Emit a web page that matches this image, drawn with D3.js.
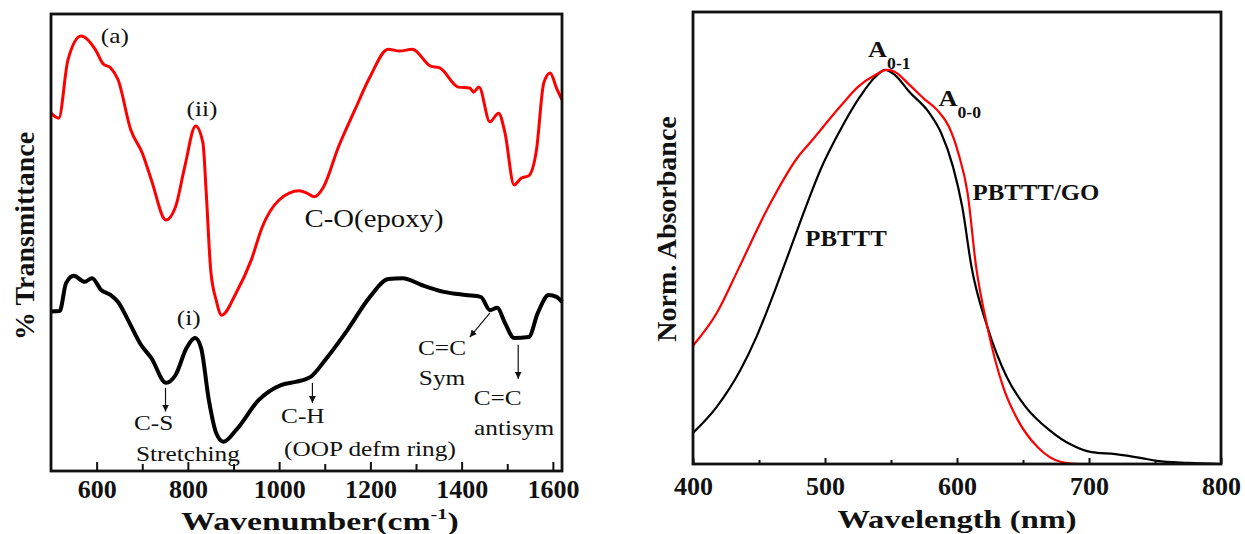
<!DOCTYPE html>
<html><head><meta charset="utf-8">
<script src="https://cdn.jsdelivr.net/npm/d3@7"></script>
<style>
body{margin:0;background:#fff}
svg{display:block}
text{font-family:"Liberation Serif","Times New Roman",serif;fill:#111}
</style>
</head><body>
<svg id="chart" width="1245" height="534"></svg>
<script>
// ---------- Panel (a): FTIR ----------
const irRedWavenumber = [500,517,537,566,598,614,631,647,675,700,720,752,773,793,817,833,840,850,862,874,906,939,963,1000,1044,1061,1077,1097,1130,1166,1199,1239,1264,1292,1332,1352,1393,1418,1426,1438,1462,1481,1495,1515,1531,1547,1564,1580,1594,1608,1620];
const irRedT = [78.3,77.2,89.9,95.2,92.1,89.1,88.2,85.6,74.6,69.6,63.7,54.9,57.8,66.5,75.5,71.8,61.3,44.0,37.4,34.1,39.0,46.2,53.4,59.3,61.3,60.8,60.0,62.1,70.9,79.0,86.2,92.3,91.9,92.3,88.6,88.2,84.0,83.8,82.9,84.0,76.4,78.3,74.0,62.6,64.1,64.6,70.2,84.9,87.1,83.8,81.2];
const irBlackWavenumber = [500,519,533,550,574,590,610,631,647,672,696,720,752,773,797,816,829,846,862,878,906,955,1004,1036,1069,1101,1150,1199,1239,1271,1312,1361,1409,1442,1462,1478,1495,1515,1547,1567,1591,1608,1620];
const irBlackT = [34.9,35.0,41.1,42.7,41.4,42.2,39.6,38.5,37.0,32.4,27.8,24.7,19.3,21.0,26.9,29.1,26.9,15.5,8.3,6.4,9.0,15.5,18.8,19.5,20.6,24.3,30.9,38.1,42.0,42.2,40.7,39.2,38.5,38.1,35.2,35.7,32.4,29.1,29.3,34.6,38.5,38.1,37.0];
const irMajorTicks = [600,800,1000,1200,1400,1600];
const irTickLabels = ["600","800","1000","1200","1400","1600"];
const irMinorTicks = [700,900,1100,1300,1500];

// ---------- Panel (b): UV-vis ----------
const uvRedWavelength = [400,418,434,456,479.5,488.6,512,525,538,547,553,564,576,585,594,601,608,614.5,623,635,646,661,679,693,750,800];
const uvRedAbs = [0.30,0.383,0.492,0.645,0.779,0.815,0.909,0.957,0.987,1.0,0.995,0.962,0.924,0.898,0.855,0.789,0.688,0.50,0.348,0.195,0.112,0.043,0.005,0,0,0];
const uvBlackWavelength = [400,418,436,448,462,472,483,497,512,526.5,538,545.6,553,564,579,588,597,604,611,623,637.7,652,670,687,702,720,740,751.5,775,800];
const uvBlackAbs = [0.079,0.145,0.239,0.322,0.440,0.530,0.630,0.750,0.850,0.932,0.982,1.0,0.987,0.944,0.891,0.840,0.754,0.652,0.50,0.348,0.221,0.145,0.086,0.048,0.030,0.025,0.015,0.008,0.003,0.0];
const uvMajorTicks = [400,500,600,700,800];
const uvTickLabels = ["400","500","600","700","800"];
const uvMinorTicks = [450,550,650,750];

const svg = d3.select("#chart");
svg.append("rect").attr("width",1245).attr("height",534).attr("fill","#fff");

const defs = svg.append("defs");
defs.append("marker").attr("id","arr").attr("viewBox","0 0 10 10")
  .attr("refX",10).attr("refY",5).attr("markerWidth",7).attr("markerHeight",7)
  .attr("markerUnits","userSpaceOnUse").attr("orient","auto")
  .append("path").attr("d","M0,0 L10,5 L0,10 z").attr("fill","#111");

function txt(g, x, y, s, opt={}) {
  const t = g.append("text")
    .attr("transform", `translate(${x},${y}) scale(${opt.sx||1},1)`)
    .attr("text-anchor", opt.anchor||"middle")
    .attr("font-size", opt.size||22)
    .attr("font-weight", opt.weight||"normal")
    .attr("dy", opt.dy==null ? "0.35em" : opt.dy);
  if (typeof s === "string") t.text(s);
  else s(t);
  return t;
}

function drawAxes(g, x, box, major, labels, minor, majLen, minLen, pad) {
  const ax = d3.axisBottom(x).tickValues(major).tickSizeInner(-majLen).tickSizeOuter(0)
    .tickPadding(pad).tickFormat((d,i)=>labels[i]);
  const ga = g.append("g").attr("transform",`translate(0,${box.y1})`).call(ax);
  ga.select(".domain").remove();
  ga.selectAll("line").attr("stroke","#111").attr("stroke-width",2);
  ga.selectAll("text").attr("font-size",26).attr("font-weight","bold")
    .attr("font-family","Liberation Serif, serif").attr("fill","#111");
  const am = d3.axisBottom(x).tickValues(minor).tickSizeInner(-minLen).tickSizeOuter(0).tickFormat("");
  const gm = g.append("g").attr("transform",`translate(0,${box.y1})`).call(am);
  gm.select(".domain").remove();
  gm.selectAll("line").attr("stroke","#111").attr("stroke-width",2);
  g.append("rect").attr("x",box.x0).attr("y",box.y0)
    .attr("width",box.x1-box.x0).attr("height",box.y1-box.y0)
    .attr("fill","none").attr("stroke","#111").attr("stroke-width",2.8);
}

// ===== Panel (a)
{
  const box = {x0:51, x1:562, y0:14, y1:471};
  const x = d3.scaleLinear().domain([500,1620]).range([box.x0, box.x1]);
  const y = d3.scaleLinear().domain([0,100]).range([box.y1, box.y0]);
  const g = svg.append("g");
  const line = (xs, ys) => d3.line().x((d,i)=>x(xs[i])).y((d,i)=>y(ys[i])).curve(d3.curveMonotoneX)(xs);
  g.append("path").attr("d", line(irRedWavenumber, irRedT)).attr("fill","none")
    .attr("stroke","#ff0000").attr("stroke-width",3).attr("stroke-linejoin","round");
  g.append("path").attr("d", line(irBlackWavenumber, irBlackT)).attr("fill","none")
    .attr("stroke","#000").attr("stroke-width",4).attr("stroke-linejoin","round");
  drawAxes(g, x, box, irMajorTicks, irTickLabels, irMinorTicks, 9, 7, 9);

  const S = 1.15;
  txt(g, x(640), y(95.4), "(a)", {sx:S});
  txt(g, x(831), y(79.4), "(ii)", {sx:S});
  txt(g, x(1208), y(55.4), "C-O(epoxy)", {sx:S, size:25});
  txt(g, x(802), y(33.7), "(i)", {sx:S});
  txt(g, x(725), y(10.7), "C-S", {sx:S});
  txt(g, x(800), y(3.9), "Stretching", {sx:S});
  txt(g, x(1052), y(12.3), "C-H", {sx:S});
  txt(g, x(1199), y(5.0), "(OOP defm ring)", {sx:S});
  txt(g, x(1357), y(27.1), "C=C", {sx:S});
  txt(g, x(1357), y(20.4), "Sym", {sx:S});
  txt(g, x(1479), y(16.2), "C=C", {sx:S});
  txt(g, x(1515), y(9.6), "antisym", {sx:S});
  const arrow = (w0,v0,w1,v1) => g.append("line")
    .attr("x1",x(w0)).attr("y1",y(v0)).attr("x2",x(w1)).attr("y2",y(v1))
    .attr("stroke","#111").attr("stroke-width",1.2).attr("marker-end","url(#arr)");
  arrow(751,18.2,751,13.0);
  arrow(1073,19.3,1073,14.9);
  arrow(1462,34.6,1418,29.3);
  arrow(1524,27.6,1524,20.2);

  txt(g, 320, 530, t=>{
    t.append("tspan").text("Wavenumber(cm");
    t.append("tspan").attr("dy",-11).attr("font-size",15).text("-1");
    t.append("tspan").attr("dy",11).text(")");
  }, {size:25, weight:"bold", sx:1.35, dy:0});
  svg.append("text").attr("transform","translate(34,236) rotate(-90)")
    .attr("text-anchor","middle").attr("font-size",28).attr("font-weight","bold")
    .text("% Transmittance");
}

// ===== Panel (b)
{
  const box = {x0:693, x1:1221, y0:12, y1:464};
  const x = d3.scaleLinear().domain([400,800]).range([box.x0, box.x1]);
  const y = d3.scaleLinear().domain([0,1.147]).range([box.y1, box.y0]);
  const g = svg.append("g");
  const line = (xs, ys) => d3.line().x((d,i)=>x(xs[i])).y((d,i)=>y(ys[i])).curve(d3.curveMonotoneX)(xs);
  g.append("path").attr("d", line(uvBlackWavelength, uvBlackAbs)).attr("fill","none")
    .attr("stroke","#000").attr("stroke-width",2.2);
  g.append("path").attr("d", line(uvRedWavelength, uvRedAbs)).attr("fill","none")
    .attr("stroke","#ff0000").attr("stroke-width",2.2);
  drawAxes(g, x, box, uvMajorTicks, uvTickLabels, uvMinorTicks, 6, 4, 13);

  const sub = (t, main, s) => {
    t.append("tspan").text(main);
    t.append("tspan").attr("dy",12).attr("font-size",16).text(s);
  };
  txt(g, x(532.6), y(1.053), t=>sub(t,"A","0-1"), {anchor:"start", size:24, weight:"bold", sx:1.1});
  txt(g, x(586), y(0.931), t=>sub(t,"A","0-0"), {anchor:"start", size:24, weight:"bold", sx:1.1});
  txt(g, x(659.8), y(0.69), "PBTTT/GO", {size:23, weight:"bold", sx:1.08});
  txt(g, x(515.9), y(0.574), "PBTTT", {size:23, weight:"bold", sx:1.08});

  txt(g, 957, 528, "Wavelength (nm)", {size:26, weight:"bold", sx:1.25, dy:0});
  svg.append("text").attr("transform","translate(676,229) rotate(-90)")
    .attr("text-anchor","middle").attr("font-size",28).attr("font-weight","bold")
    .text("Norm. Absorbance");
}
</script>
</body></html>
